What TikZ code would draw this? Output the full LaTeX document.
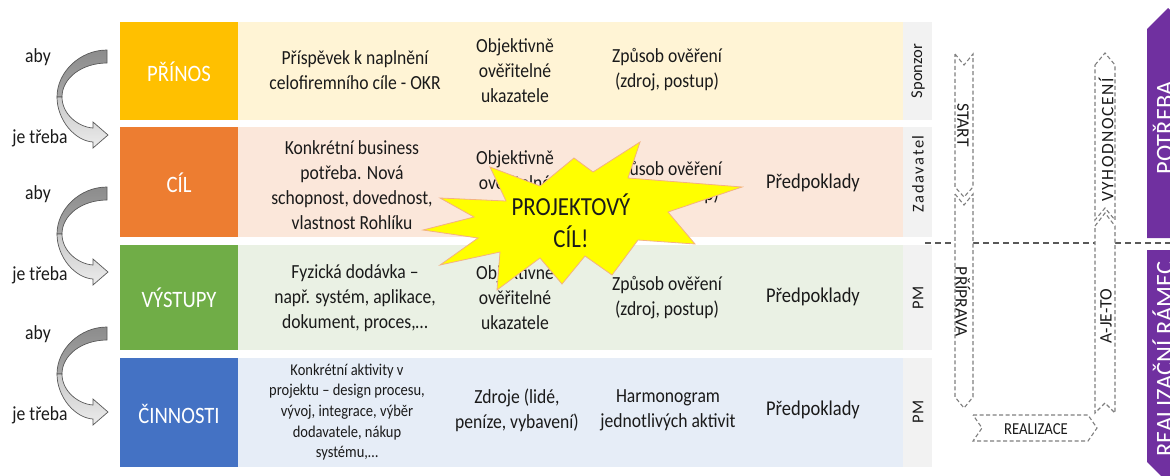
\documentclass[tikz,border=0pt]{standalone}
\usepackage{fontspec}
\setmainfont{Carlito}[FakeStretch=0.88]
\newfontfamily\uprightfont{Carlito}
\newfontfamily\trackedfont{Carlito}[LetterSpace=10]
\newfontfamily\lighttrackfont{Carlito}[LetterSpace=9]

\definecolor{cPrinos}{HTML}{FFC000}
\definecolor{cCil}{HTML}{ED7D31}
\definecolor{cVystupy}{HTML}{70AD47}
\definecolor{cCinnosti}{HTML}{4472C4}
\definecolor{lPrinos}{HTML}{FFF4D5}
\definecolor{lCil}{HTML}{FBE7DA}
\definecolor{lVystupy}{HTML}{EAF1E4}
\definecolor{lCinnosti}{HTML}{E6EDF7}
\definecolor{roleGray}{HTML}{F2F2F2}
\definecolor{barPurple}{HTML}{7030A0}
\definecolor{starYellow}{HTML}{FFFF00}
\definecolor{starEdge}{HTML}{F4B183}
\definecolor{ink}{HTML}{1A1A1A}
\definecolor{phaseGray}{HTML}{7F7F7F}
\definecolor{turnEdge}{HTML}{595959}
\definecolor{turnDark}{HTML}{8C8C8C}
\definecolor{turnMid}{HTML}{A6A6A6}
\definecolor{turnPale}{HTML}{C8C8C8}
\definecolor{turnLight}{HTML}{ECECEC}

\tikzset{
  bandbox/.style={inner sep=0, outer sep=0, minimum width=118, draw=none},
  bandfill/.style={inner sep=0, outer sep=0, minimum width=665, draw=none},
  rolebox/.style={inner sep=0, outer sep=0, minimum width=29, fill=roleGray, draw=none},
  bandlabel/.style={inner sep=0, text=white, font=\fontsize{23.5}{28}\selectfont,
    text height=15pt, text depth=0pt},
  celltext/.style={align=center, text=ink, inner sep=0, font=\fontsize{20}{25}\selectfont},
  smallcell/.style={align=center, text=ink, inner sep=0, font=\fontsize{16.5}{20.7}\selectfont},
  premise/.style={text=ink, inner sep=0, font=\fontsize{21}{25}\selectfont},
  roletext/.style={text=ink, inner sep=0, font=\uprightfont\fontsize{16.5}{20}\selectfont},
  sidenote/.style={text=ink, inner sep=0, font=\fontsize{20}{24}\selectfont},
  phase/.style={draw=phaseGray, fill=white, dash pattern=on 4pt off 2.5pt, line width=1.1pt},
  phasetext/.style={text=ink, inner sep=0, font=\uprightfont\fontsize{17.5}{20}\selectfont},
  divider/.style={draw=turnEdge, dash pattern=on 6pt off 4pt, line width=1.2pt},
  purplebar/.style={fill=barPurple, draw=none},
  bartext/.style={text=white, inner sep=0, font=\uprightfont\fontsize{24.5}{28}\selectfont,
    text height=15.8pt, text depth=0pt},
  pics/turnarrow/.style={code={
    % back face of the ribbon (upper half)
    \path[top color=turnDark, bottom color=turnMid, draw=turnEdge, line width=0.7pt]
      (107,50) .. controls (80,50) and (57,72) .. (57,97) -- (62,97)
      .. controls (62,78) and (82,63) .. (107,63) -- cycle;
    % front face with the arrow head
    \path[top color=turnPale, bottom color=turnLight, draw=turnEdge, line width=0.7pt]
      (57,97) .. controls (57,120) and (75,141) .. (93,142) -- (93,148) -- (108,135)
      -- (93,122) -- (93,128) .. controls (78,127) and (62,114) .. (62,97) -- cycle;
  }}
}

\begin{document}
\begin{tikzpicture}[x=1pt,y=-1pt]
\useasboundingbox (0,0) rectangle (1170,475);
\clip (0,0) rectangle (1170,475);

% ---------- four bands ----------
\node[bandbox, fill=cPrinos,   minimum height=98]  (prinos)    at (179,71)    {};
\node[bandbox, fill=cCil,      minimum height=110] (cil)       at (179,182)   {};
\node[bandbox, fill=cVystupy,  minimum height=105] (vystupy)   at (179,297.5) {};
\node[bandbox, fill=cCinnosti, minimum height=109] (cinnosti)  at (179,412.5) {};

\node[bandfill, fill=lPrinos,   minimum height=98]  (prinosbg)   at (570.5,71)    {};
\node[bandfill, fill=lCil,      minimum height=110] (cilbg)      at (570.5,182)   {};
\node[bandfill, fill=lVystupy,  minimum height=105] (vystupybg)  at (570.5,297.5) {};
\node[bandfill, fill=lCinnosti, minimum height=109] (cinnostibg) at (570.5,412.5) {};

\node[rolebox, minimum height=98]  (prinosrole)   at (917.5,71)    {};
\node[rolebox, minimum height=110] (cilrole)      at (917.5,182)   {};
\node[rolebox, minimum height=105] (vystupyrole)  at (917.5,297.5) {};
\node[rolebox, minimum height=109] (cinnostirole) at (917.5,412.5) {};

\node[bandlabel] (prinoslbl)   at (179,74)    {PŘÍNOS};
\node[bandlabel] (cillbl)      at (179,185)   {CÍL};
\node[bandlabel] (vystupylbl)  at (179,300)   {VÝSTUPY};
\node[bandlabel] (cinnostilbl) at (179,415.5) {ČINNOSTI};

% ---------- role column ----------
\node[roletext, rotate=90] (sponzor)   at (918,71)  {Sponzor};
\node[roletext, rotate=90, font=\trackedfont\fontsize{16.5}{20}\selectfont] (zadavatel) at (918,174) {Zadavatel};
\node[roletext, rotate=90] (pm1)       at (918,298) {PM};
\node[roletext, rotate=90] (pm2)       at (918,412) {PM};

% ---------- band contents ----------
\node[celltext] (p1) at (355,70)  {Příspěvek k naplnění\\celofiremního cíle - OKR};
\node[celltext] (p2) at (515,71)  {Objektivně\\ověřitelné\\ukazatele};
\node[celltext] (p3) at (667,70)  {Způsob ověření\\(zdroj, postup)};

\node[celltext] (c1) at (352,185) {Konkrétní business\\potřeba. Nová\\schopnost, dovednost,\\vlastnost Rohlíku};
\node[celltext] (c2) at (515,183) {Objektivně\\ověřitelné\\ukazatele};
\node[celltext] (c3) at (667,183) {Způsob ověření\\(zdroj, postup)};
\node[premise]  (c4) at (813,183) {Předpoklady};

\node[celltext] (v1) at (355,298) {Fyzická dodávka –\\např. systém, aplikace,\\dokument, proces,…};
\node[celltext] (v2) at (515,298) {Objektivně\\ověřitelné\\ukazatele};
\node[celltext] (v3) at (667,298) {Způsob ověření\\(zdroj, postup)};
\node[premise]  (v4) at (813,297) {Předpoklady};

\node[smallcell] (a1) at (347,412) {Konkrétní aktivity v\\projektu – design procesu,\\vývoj, integrace, výběr\\dodavatele, nákup\\systému,…};
\node[celltext]  (a2) at (517,410) {Zdroje (lidé,\\peníze, vybavení)};
\node[celltext]  (a3) at (668,410) {Harmonogram\\jednotlivých aktivit};
\node[premise]   (a4) at (813,410) {Předpoklady};

% ---------- explosion over the goal band ----------
\path[fill=starYellow, draw=starEdge, line width=0.8pt]
  (640,142) -- (628,178) -- (742,187) -- (668,212) -- (695,244) -- (638,240)
  -- (612,275) -- (585,256) -- (562,284) -- (540,258) -- (497,290) -- (500,252)
  -- (440,265) -- (478,238) -- (423,230) -- (474,217) -- (440,198) -- (506,201)
  -- (490,167) -- (540,186) -- (574,158) -- (593,172) -- cycle;
\node[align=center, text=ink, inner sep=0, font=\fontsize{26}{32}\selectfont] (projcil) at (571,221) {PROJEKTOVÝ\\CÍL!};

% ---------- left-hand turn arrows ----------
\pic at (0,0)   {turnarrow};
\pic at (0,137) {turnarrow};
\pic at (0,277) {turnarrow};
\node[sidenote] (aby1)   at (38,57)  {aby};
\node[sidenote] (treba1) at (40,138) {je třeba};
\node[sidenote] (aby2)   at (38,194) {aby};
\node[sidenote] (treba2) at (40,275) {je třeba};
\node[sidenote] (aby3)   at (38,334) {aby};
\node[sidenote] (treba3) at (40,415) {je třeba};

% ---------- project phases ----------
\draw[divider] (925,243) -- (955,243);
\draw[divider] (973,243) -- (1095,243);
\draw[divider] (1115,243) -- (1170,243);

\path[phase] (955,54) -- (964,65) -- (973,54) -- (973,187) -- (964,197) -- (955,187) -- cycle;
\path[phase] (955,194) -- (964,205) -- (973,194) -- (973,397) -- (964,408) -- (955,397) -- cycle;
\path[phase] (1095,65) -- (1105,53) -- (1115,65) -- (1115,220) -- (1105,208) -- (1095,220) -- cycle;
\path[phase] (1095,226) -- (1105,213) -- (1115,226) -- (1115,413) -- (1105,403) -- (1095,413) -- cycle;
\path[phase] (973,415) -- (1088,415) -- (1097,428) -- (1088,441) -- (973,441) -- (982,428) -- cycle;

\node[phasetext, rotate=-90] (start)     at (963,125)  {START};
\node[phasetext, rotate=-90] (priprava)  at (963,302)  {PŘÍPRAVA};
\node[phasetext, rotate=90, font=\lighttrackfont\fontsize{17.5}{20}\selectfont] (vyhodnoceni) at (1106,140) {VYHODNOCENÍ};
\node[phasetext, rotate=90]  (ajeto)     at (1106,316) {A-JE-TO};
\node[phasetext, font=\fontsize{16.7}{20}\selectfont] (realizace) at (1036,429) {REALIZACE};

% ---------- purple frame bars ----------
\path[purplebar] (1147,238) -- (1147,29) -- (1168,8) -- (1189,29) -- (1189,238) -- cycle;
\path[purplebar] (1147,250) -- (1189,250) -- (1189,462) -- (1168,483) -- (1147,462) -- cycle;
\node[bartext, rotate=90] (potreba) at (1165,128) {POTŘEBA};
\node[bartext, rotate=90] (ramec)   at (1165,359) {REALIZAČNÍ RÁMEC};
\end{tikzpicture}
\end{document}
